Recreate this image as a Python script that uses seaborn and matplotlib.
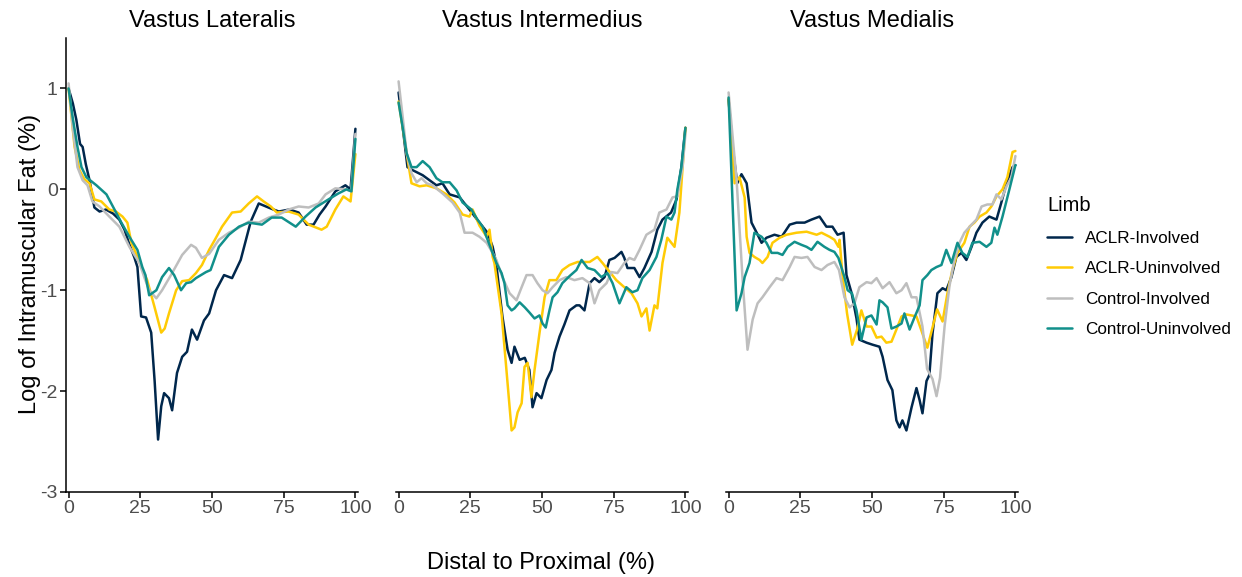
import numpy as np
import pandas as pd
import matplotlib
matplotlib.use("Agg")
import matplotlib.pyplot as plt
import seaborn as sns

# ---------------- data: log intramuscular fat along the muscle length ----------------
muscles = ["Vastus Lateralis", "Vastus Intermedius", "Vastus Medialis"]
limbs = ["ACLR-Involved", "ACLR-Uninvolved", "Control-Involved", "Control-Uninvolved"]
limb_colors = ["#00274C", "#FFCB05", "#BEBEBE", "#11908B"]

# Vastus Lateralis
vl_aclr_inv_x = [0, 1.5, 2.7, 4.0, 4.9, 6, 7.3, 9, 10.8, 13, 15.5, 17.7, 19.5, 21, 23, 24, 25.3, 27, 28.8, 30,
                 31.2, 32.3, 33.3, 35, 36.1, 37.8, 39.6, 41.3, 43, 44.8, 47.2, 49, 51.4, 54.2, 57, 60, 63.5, 66.3,
                 70.5, 73.3, 77, 80.2, 83, 85.4, 87.5, 89.6, 93, 96.5, 98.3, 100]
vl_aclr_inv_y = [1.0, 0.85, 0.69, 0.45, 0.42, 0.25, 0.09, -0.18, -0.22, -0.2, -0.24, -0.3, -0.4, -0.53, -0.68,
                 -0.77, -1.26, -1.27, -1.42, -1.9, -2.48, -2.15, -2.02, -2.07, -2.19, -1.82, -1.66, -1.61, -1.39,
                 -1.49, -1.3, -1.23, -1.0, -0.85, -0.88, -0.7, -0.32, -0.14, -0.19, -0.22, -0.2, -0.23, -0.35,
                 -0.35, -0.25, -0.17, -0.02, 0.04, 0.0, 0.6]
vl_aclr_uninv_x = [0, 2.1, 3.8, 5.5, 7.3, 9, 11.4, 14.2, 16.5, 18.8, 20.5, 21.9, 24, 25.5, 27.4, 29.9, 32.3, 33.5,
                   35, 37.5, 39.6, 42, 44.4, 46.5, 49, 51, 53.5, 57, 60, 62.8, 65.7, 68, 70.5, 72.6, 76.7, 80.2,
                   83.7, 88.2, 90, 93, 95.8, 98.3, 100]
vl_aclr_uninv_y = [1.0, 0.42, 0.19, 0.1, 0.06, -0.1, -0.12, -0.2, -0.22, -0.27, -0.33, -0.53, -0.67, -0.78, -0.9,
                   -1.16, -1.42, -1.38, -1.23, -1.0, -0.91, -0.9, -0.83, -0.75, -0.6, -0.5, -0.37, -0.23, -0.22,
                   -0.14, -0.07, -0.12, -0.17, -0.23, -0.22, -0.25, -0.35, -0.4, -0.37, -0.2, -0.07, -0.12, 0.35]
vl_ctrl_inv_x = [0, 1.5, 3.1, 4.9, 6.6, 8.3, 10.8, 14.2, 17.7, 21.2, 24.7, 26.5, 28.1, 30.6, 32.6, 36.1, 39.6,
                 42.7, 44.4, 46.5, 49, 52.4, 55.9, 59.4, 62.8, 66.3, 69.8, 73.3, 76.7, 80.2, 83.7, 87.2, 89.6, 93,
                 96.5, 98.5, 100]
vl_ctrl_inv_y = [1.05, 0.6, 0.22, 0.09, 0.04, -0.12, -0.17, -0.27, -0.37, -0.57, -0.73, -0.88, -1.0, -1.08, -1.0,
                 -0.83, -0.65, -0.55, -0.58, -0.68, -0.64, -0.5, -0.43, -0.38, -0.32, -0.33, -0.28, -0.25, -0.2,
                 -0.17, -0.18, -0.14, -0.05, 0.01, 0.0, -0.02, 0.55]
vl_ctrl_uninv_x = [0, 1.5, 3.1, 4.5, 6.2, 9.7, 13.2, 16, 18.4, 21.2, 24, 25.7, 26.8, 28.1, 30.6, 32.6, 35, 36.8,
                   39.2, 41, 42.7, 44.4, 47.9, 49.5, 52.4, 55.9, 59.4, 62.8, 67.4, 70.8, 74.3, 79.2, 82.6, 86.1,
                   90.6, 94.1, 96.9, 98.6, 100]
vl_ctrl_uninv_y = [1.0, 0.7, 0.42, 0.22, 0.12, 0.04, -0.05, -0.2, -0.33, -0.47, -0.6, -0.77, -0.85, -1.05, -1.0,
                   -0.87, -0.78, -0.85, -1.0, -0.93, -0.92, -0.88, -0.82, -0.8, -0.57, -0.45, -0.37, -0.33, -0.35,
                   -0.28, -0.28, -0.37, -0.27, -0.18, -0.1, -0.04, 0.0, -0.02, 0.5]

# Vastus Intermedius
vi_aclr_inv_x = [0, 1.5, 3.1, 4.9, 8.4, 10.8, 13.2, 15.3, 17.8, 21.3, 24.7, 28.2, 31, 32.8, 34, 36.2, 38, 39.4,
                 40.4, 42.2, 44, 45.6, 46.7, 48.1, 49.8, 51.6, 53.3, 54.4, 56.1, 57.8, 59.6, 62, 63.1, 64.8, 66.6,
                 68.3, 70, 71.8, 73.5, 75.3, 77.7, 78.7, 79.8, 82.2, 84, 85.7, 88.2, 90.2, 92, 95, 96.9, 98.6, 100]
vi_aclr_inv_y = [0.96, 0.6, 0.22, 0.19, 0.14, 0.09, 0.04, 0.06, -0.05, -0.08, -0.2, -0.33, -0.43, -0.57, -0.73,
                 -1.26, -1.59, -1.72, -1.56, -1.69, -1.67, -1.79, -2.16, -2.02, -2.07, -1.89, -1.79, -1.62, -1.46,
                 -1.34, -1.2, -1.15, -1.15, -1.2, -0.93, -0.88, -0.92, -0.87, -0.7, -0.68, -0.62, -0.68, -0.78,
                 -0.78, -0.87, -0.78, -0.62, -0.4, -0.3, -0.23, -0.1, 0.22, 0.61]
vi_aclr_uninv_x = [0, 1.5, 2.8, 4.5, 7.3, 9.8, 13.2, 16.7, 19.5, 22.3, 24.7, 25.8, 28.2, 30.7, 31.7, 32.8, 33.4,
                   35.9, 37.6, 39.4, 40.4, 41.5, 42.9, 43.9, 45, 46.3, 47.4, 49.1, 50.9, 52.6, 55, 57.1, 59.6, 62.4,
                   66.6, 69.3, 71.1, 72.8, 75.9, 78.7, 81.2, 83.3, 84.7, 86.4, 87.5, 89.2, 90.2, 92, 93.7, 96.2,
                   97.9, 100]
vi_aclr_uninv_y = [0.87, 0.6, 0.36, 0.06, 0.03, 0.04, 0.01, -0.05, -0.13, -0.25, -0.27, -0.2, -0.36, -0.47, -0.4,
                   -0.67, -0.73, -1.23, -1.79, -2.39, -2.36, -2.21, -2.12, -1.76, -1.72, -2.06, -1.79, -1.43, -1.07,
                   -0.9, -0.9, -0.8, -0.75, -0.72, -0.72, -0.67, -0.73, -0.79, -0.9, -0.97, -1.03, -1.13, -1.26,
                   -1.18, -1.4, -1.15, -1.18, -0.73, -0.48, -0.57, -0.23, 0.61]
vi_ctrl_inv_x = [0, 1.5, 2.8, 4.5, 6.3, 8, 9.8, 11.8, 15.3, 18.8, 21.3, 23, 25.8, 28.2, 30.7, 32.8, 34.1, 36.2,
                 38.7, 41.1, 42.9, 44.6, 46.7, 48.4, 50.2, 51.9, 53.7, 56.1, 58.5, 61.3, 64.1, 66.6, 68.3, 70,
                 72.5, 74.2, 76.3, 78.7, 80.5, 82.2, 84, 86.4, 89.2, 90.9, 93.4, 95.5, 97.2, 99, 100]
vi_ctrl_inv_y = [1.07, 0.7, 0.36, 0.16, 0.07, 0.11, 0.06, 0.04, -0.04, -0.13, -0.23, -0.43, -0.43, -0.47, -0.53,
                 -0.63, -0.7, -0.87, -1.03, -1.1, -0.97, -0.85, -0.85, -0.93, -1.0, -1.03, -0.97, -0.9, -0.87,
                 -0.9, -0.88, -0.93, -1.13, -1.0, -0.93, -0.82, -0.83, -0.73, -0.68, -0.7, -0.6, -0.45, -0.4,
                 -0.23, -0.2, -0.08, -0.07, 0.22, 0.55]
vi_ctrl_uninv_x = [0, 1.5, 2.8, 4.5, 6.3, 8.4, 10.8, 13.2, 15.3, 17.8, 20.2, 22.3, 25.4, 27.5, 29.3, 31.7, 34.1,
                   35.9, 36.9, 38, 39.4, 40.4, 42.2, 44, 45.6, 47.4, 49.1, 50.2, 51.3, 52.6, 53.7, 55.4, 57.1,
                   59.6, 62, 63.8, 65.9, 68.3, 70.7, 72.8, 74.6, 77, 79.4, 81.5, 83.3, 85, 87.5, 89.9, 91.6, 93.4,
                   95.1, 96.2, 97.2, 98.6, 100]
vi_ctrl_uninv_y = [0.86, 0.6, 0.36, 0.22, 0.22, 0.28, 0.22, 0.11, 0.07, 0.07, -0.01, -0.13, -0.2, -0.3, -0.37,
                   -0.55, -0.73, -0.83, -0.93, -1.15, -1.2, -1.18, -1.12, -1.17, -1.22, -1.28, -1.25, -1.33, -1.37,
                   -1.2, -1.07, -1.02, -0.93, -0.86, -0.8, -0.7, -0.78, -0.8, -0.87, -0.83, -0.93, -1.13, -0.97,
                   -1.02, -1.0, -0.88, -0.8, -0.67, -0.5, -0.27, -0.3, -0.23, 0.0, 0.22, 0.61]

# Vastus Medialis
vm_aclr_inv_x = [0, 1.5, 3.0, 4.5, 6.3, 8, 9.8, 11.5, 13.2, 16, 18.5, 21.3, 23.7, 26.5, 28.9, 31.7, 34.1, 36.2,
                 38, 40.1, 41.1, 42.9, 44.6, 45.6, 48.1, 50.2, 52.6, 53.7, 55.4, 57.1, 58.5, 59.6, 60.6, 62, 63.8,
                 65.5, 66.6, 67.6, 69, 70, 71.1, 72.8, 74.6, 75.9, 77.7, 79.4, 81.2, 82.9, 84.7, 86.4, 88.5, 90.9,
                 93.4, 95.1, 96.9, 99, 100]
vm_aclr_inv_y = [0.89, 0.4, 0.06, 0.15, 0.06, -0.33, -0.43, -0.53, -0.48, -0.45, -0.47, -0.35, -0.33, -0.33,
                 -0.3, -0.27, -0.37, -0.37, -0.45, -0.43, -0.85, -1.03, -1.28, -1.49, -1.52, -1.54, -1.56, -1.66,
                 -1.89, -1.99, -2.29, -2.36, -2.29, -2.39, -2.16, -1.97, -2.09, -2.22, -1.9, -1.84, -1.43, -1.03,
                 -0.98, -1.0, -0.87, -0.67, -0.63, -0.7, -0.57, -0.43, -0.33, -0.27, -0.3, -0.13, 0.06, 0.22, 0.24]
vm_aclr_uninv_x = [0, 2.1, 3.8, 5.6, 6.3, 7.3, 9, 10.8, 11.8, 13.6, 15.3, 17.8, 20.2, 23.7, 27.2, 30.7, 32.4,
                   35.2, 36.9, 38.3, 38.7, 39.7, 41.3, 43.1, 44.9, 46.3, 48.1, 49.8, 51.6, 53.3, 55, 56.8, 58.5,
                   60.3, 62, 63.8, 65.5, 67.6, 69.3, 71, 72.7, 74.6, 76.3, 78, 79.8, 82.2, 84, 85.7, 87.5, 89.9,
                   91.6, 93.4, 95.5, 97.2, 99, 100]
vm_aclr_uninv_y = [0.9, 0.06, 0.12, -0.08, -0.47, -0.63, -0.67, -0.7, -0.73, -0.67, -0.53, -0.48, -0.45, -0.43,
                   -0.42, -0.45, -0.43, -0.47, -0.5, -0.57, -0.5, -0.85, -1.23, -1.54, -1.38, -1.2, -1.36, -1.36,
                   -1.47, -1.46, -1.52, -1.51, -1.39, -1.26, -1.24, -1.25, -1.26, -1.43, -1.57, -1.38, -1.19, -1.31,
                   -1.03, -0.8, -0.63, -0.53, -0.37, -0.33, -0.27, -0.23, -0.17, -0.07, 0.0, 0.12, 0.37, 0.38]
vm_ctrl_inv_x = [0, 2.8, 4.9, 6.6, 8.4, 10.1, 11.8, 14.3, 16.7, 18.8, 21.3, 23, 25.4, 27.5, 30, 32.4, 34.5, 36.9,
                 38.5, 40.4, 42.2, 43.9, 45.6, 48.1, 49.8, 51.6, 53.7, 56.1, 58.5, 60.3, 62, 63.8, 65.5, 67.6,
                 69.2, 71.1, 72.5, 73.7, 75.3, 77, 78.7, 80.5, 82.2, 84.7, 86.4, 88.2, 90.2, 92, 93.4, 95.1, 96.9,
                 98.6, 100]
vm_ctrl_inv_y = [0.96, 0.09, -0.9, -1.59, -1.29, -1.13, -1.07, -0.97, -0.88, -0.9, -0.77, -0.67, -0.68, -0.67,
                 -0.77, -0.8, -0.75, -0.72, -0.8, -1.07, -1.17, -1.13, -0.97, -0.92, -0.93, -0.88, -0.98, -0.92,
                 -1.03, -1.0, -0.93, -1.07, -1.07, -1.36, -1.78, -1.88, -2.05, -1.87, -1.36, -0.96, -0.7, -0.53,
                 -0.43, -0.35, -0.3, -0.17, -0.15, -0.15, -0.05, -0.1, 0.03, 0.12, 0.33]
vm_ctrl_uninv_x = [0, 2.8, 4.5, 5.6, 7.3, 9, 11.5, 13.2, 15, 17.1, 18.8, 20.6, 23, 25.4, 27.2, 28.9, 31, 33.4,
                   35.2, 36.9, 38.3, 40.4, 41.5, 43, 44.6, 46.3, 48.1, 49.8, 51.6, 52.6, 53.7, 55.4, 56.8, 58.5,
                   60.3, 61.3, 63.1, 64.8, 66.6, 67.6, 69.3, 70.7, 72.5, 74.2, 75.9, 77.7, 79.8, 81.5, 83.3, 85,
                   87.5, 89.9, 91.6, 92.7, 93.7, 95.5, 97.9, 100]
vm_ctrl_uninv_y = [0.91, -1.2, -1.03, -0.87, -0.73, -0.43, -0.47, -0.53, -0.63, -0.63, -0.65, -0.57, -0.52,
                   -0.55, -0.57, -0.6, -0.52, -0.57, -0.6, -0.62, -0.68, -0.87, -1.0, -1.03, -1.2, -1.49, -1.27,
                   -1.25, -1.34, -1.1, -1.12, -1.17, -1.38, -1.36, -1.33, -1.23, -1.39, -1.27, -1.15, -0.9, -0.85,
                   -0.8, -0.77, -0.75, -0.6, -0.73, -0.53, -0.63, -0.67, -0.53, -0.52, -0.57, -0.53, -0.38, -0.45,
                   -0.27, 0.0, 0.24]

x_ticks = [0, 25, 50, 75, 100]
y_ticks = [-3, -2, -1, 0, 1]

# ---------------- long table ----------------
series = {
    "Vastus Lateralis": [(vl_aclr_inv_x, vl_aclr_inv_y), (vl_aclr_uninv_x, vl_aclr_uninv_y),
                         (vl_ctrl_inv_x, vl_ctrl_inv_y), (vl_ctrl_uninv_x, vl_ctrl_uninv_y)],
    "Vastus Intermedius": [(vi_aclr_inv_x, vi_aclr_inv_y), (vi_aclr_uninv_x, vi_aclr_uninv_y),
                           (vi_ctrl_inv_x, vi_ctrl_inv_y), (vi_ctrl_uninv_x, vi_ctrl_uninv_y)],
    "Vastus Medialis": [(vm_aclr_inv_x, vm_aclr_inv_y), (vm_aclr_uninv_x, vm_aclr_uninv_y),
                        (vm_ctrl_inv_x, vm_ctrl_inv_y), (vm_ctrl_uninv_x, vm_ctrl_uninv_y)],
}
rows = []
for muscle in muscles:
    for limb, (xs, ys) in zip(limbs, series[muscle]):
        for xv, yv in zip(xs, ys):
            rows.append((muscle, limb, xv, yv))
df = pd.DataFrame(rows, columns=["Muscle", "Limb", "Position", "LogFat"])

# ---------------- style ----------------
sns.set_style("white")
plt.rcParams["font.family"] = ["Liberation Sans", "DejaVu Sans"]
plt.rcParams["axes.linewidth"] = 1.1
plt.rcParams["text.color"] = "black"
plt.rcParams["axes.labelcolor"] = "black"

W, H = 1242, 577
fig = plt.figure(figsize=(W / 100, H / 100), dpi=100)
palette = dict(zip(limbs, limb_colors))
LW = 1.8

panel_left = [66, 396, 726]
panel_w = 292
panel_top, panel_bottom = 38, 492

for i, muscle in enumerate(muscles):
    ax = fig.add_axes([panel_left[i] / W, 1 - panel_bottom / H, panel_w / W, (panel_bottom - panel_top) / H])
    sub = df[df["Muscle"] == muscle]
    sns.lineplot(data=sub, x="Position", y="LogFat", hue="Limb", hue_order=limbs, palette=palette,
                 estimator=None, sort=False, linewidth=LW, legend=False, ax=ax)
    ax.set_xlim(-0.9, 100.9)
    ax.set_ylim(-3, 1.5)
    ax.set_xticks(x_ticks)
    ax.set_xticklabels([str(t) for t in x_ticks])
    ax.set_xlabel("")
    ax.set_ylabel("")
    ax.set_title(muscle, fontsize=17, pad=8, color="black")
    for s in ["top", "right"]:
        ax.spines[s].set_visible(False)
    ax.spines["bottom"].set_color("black")
    ax.tick_params(axis="x", length=4, width=1.1, color="black", labelsize=14, labelcolor="#4D4D4D", pad=2,
                   bottom=True)
    if i == 0:
        ax.set_yticks(y_ticks)
        ax.set_yticklabels([str(t) for t in y_ticks])
        ax.spines["left"].set_color("black")
        ax.tick_params(axis="y", length=4, width=1.1, color="black", labelsize=14, labelcolor="#4D4D4D",
                       pad=2, left=True)
    else:
        ax.spines["left"].set_visible(False)
        ax.set_yticks([])

fig.text(541 / W, 1 - 563 / H, "Distal to Proximal (%)", ha="center", va="center", fontsize=17)
fig.text(30 / W, 1 - 264 / H, "Log of Intramuscular Fat (%)", ha="center", va="center",
         rotation=90, fontsize=17)

handles = [plt.Line2D([], [], color=c, linewidth=LW) for c in limb_colors]
leg = fig.legend(handles, limbs, title="Limb", frameon=False, loc="upper left",
                 bbox_to_anchor=(1032 / W, 1 - 181 / H), fontsize=12.3, title_fontsize=14.4,
                 handlelength=1.45, handletextpad=0.75, labelspacing=0.9, alignment="left")

fig.savefig("out.png", dpi=100, facecolor="white")
